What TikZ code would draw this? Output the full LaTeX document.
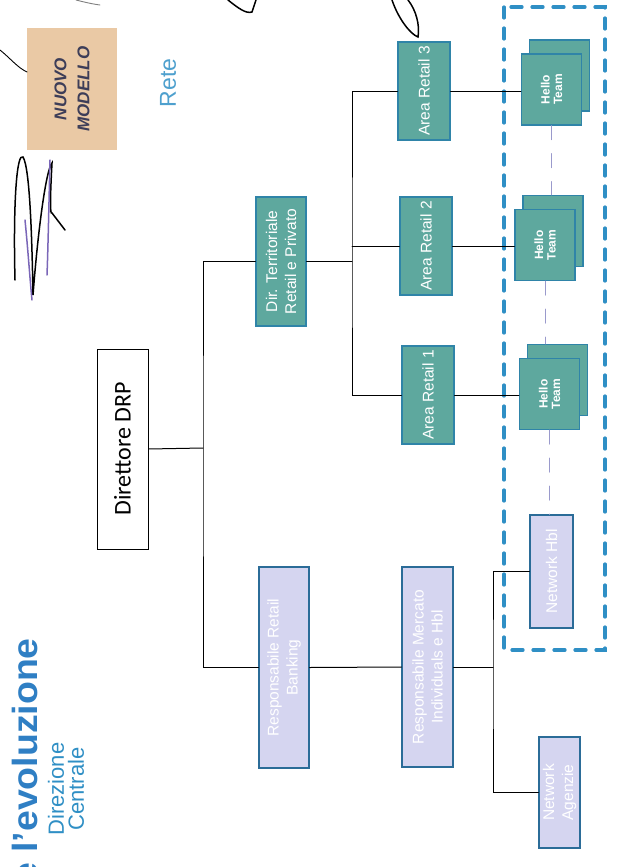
\documentclass[tikz,border=0pt]{standalone}
\usepackage{fontspec}
\setmainfont{Liberation Sans}
\newfontfamily\drpfont{Carlito}
\definecolor{areafill}{HTML}{5EA89E}
\definecolor{arealine}{HTML}{2F84A8}
\definecolor{lilafill}{HTML}{D5D5F0}
\definecolor{lilaline}{HTML}{2B6C98}
\definecolor{gapline}{HTML}{9A9ACC}
\definecolor{reteblue}{HTML}{2F8FC5}
\definecolor{titleblue}{HTML}{2F7FC4}
\definecolor{modfill}{HTML}{EAC9A5}
\definecolor{modtext}{HTML}{3D3D58}
\definecolor{signink}{HTML}{7A66B8}
\begin{document}
\begin{tikzpicture}[x=1pt,y=-1pt,line cap=round,
  every node/.style={inner sep=0pt,font=\fontsize{15.5}{19}\selectfont},
  areabox/.style={rotate=90,draw=arealine,line width=1.2pt,fill=areafill,text=white,align=center},
  lilabox/.style={rotate=90,draw=lilaline,line width=1.2pt,fill=lilafill,text=white,align=center},
  teambox/.style={areabox,minimum width=71pt,minimum height=60pt,font=\fontsize{12}{12.5}\selectfont\bfseries},
  link/.style={line width=1pt},
  gap/.style={draw=gapline,line width=1pt,dash pattern=on 14pt off 14pt},
  hellozone/.style={draw=reteblue,line width=3.2pt,dash pattern=on 11pt off 10pt},
  ink/.style={line width=1.5pt}]

  \fill[white] (0,0) rectangle (620,867);
  \useasboundingbox (0,0) rectangle (620,867);

  % titoli
  \node[rotate=90,anchor=base east,text=titleblue,font=\fontsize{35}{40}\selectfont\bfseries] (titolo) at (37,638) {\scalebox{1.07}[1]{e l’evoluzione}};
  \node[rotate=90,text=reteblue,align=center,font=\fontsize{22}{20}\selectfont] (dircen) at (66,789) {Direzione\\Centrale};
  \node[rotate=90,text=reteblue!85,font=\fontsize{23}{26}\selectfont] (rete) at (168,83) {Rete};
  \node[rotate=90,fill=modfill,minimum width=122pt,minimum height=90pt,align=center,text=modtext,font=\fontsize{17}{23}\selectfont\bfseries\itshape] (modello) at (72,89) {NUOVO\\MODELLO};

  % area hello team
  \draw[hellozone] (504,7) rectangle (605,650);

  % caselle
  \node[draw=black,line width=1pt,fill=white,rotate=90,minimum width=200pt,minimum height=51pt,font=\drpfont\fontsize{24}{28}\selectfont] (drp) at (122.5,449) {Direttore DRP};
  \node[areabox,minimum width=129pt,minimum height=50pt] (dirterr) at (281,261.5) {Dir. Territoriale\\Retail e Privato};
  \node[lilabox,minimum width=201pt,minimum height=50pt] (rrb) at (284,667.5) {Responsabile Retail\\Banking};
  \node[lilabox,minimum width=200pt,minimum height=51pt] (rmi) at (427.5,667) {Responsabile Mercato\\Individuals e Hbl};
  \node[lilabox,minimum width=113pt,minimum height=43pt] (hbl) at (551.5,571.5) {Network Hbl};
  \node[lilabox,minimum width=111pt,minimum height=41pt] (agenzie) at (559.5,792.5) {Network\\Agenzie};

  \foreach \i/\xa/\ya/\xt/\yt in {3/424/91/551.5/89.5, 2/426/246/545/245, 1/428/395/549.5/394} {
    \node[areabox,minimum width=98pt,minimum height=52pt] (ar\i) at (\xa,\ya) {Area Retail \i};
    \node[teambox] (htb\i) at (\xt+8,\yt-14) {};
    \node[teambox] (ht\i) at (\xt,\yt) {Hello\\Team};
    \draw[link] (ar\i.south) -- (ar\i.south -| ht\i.north);
  }

  % collegamenti
  \coordinate (j1) at (203,448);
  \coordinate (j2) at (352,261.5);
  \coordinate (j3) at (493,667);
  \draw[link] (drp.south) -- (j1);
  \draw[link] (dirterr.north) -| (j1) |- (rrb.north);
  \draw[link] (dirterr.south) -- (j2);
  \draw[link] (ar3.north) -| (j2) |- (ar1.north);
  \draw[link] (ar2.north) -- (ar2.north -| j2);
  \draw[link] (rrb.south) -- (rmi.north);
  \draw[link] (rmi.south) -- (j3);
  \draw[link] (hbl.north) -| (j3) |- (agenzie.north);

  \draw[gap] (ht3.west) -- (ht3.west |- htb2.east);
  \draw[gap] (ht2.west) -- (ht2.west |- htb1.east);
  \draw[gap] (ht1.west) -- (ht1.west |- hbl.east);

  % segni a penna
  \draw[ink,line width=0.9pt] (0,50) .. controls (10,58) and (18,68) .. (27,72);
  \draw[ink,gray,line width=0.9pt] (76,0) .. controls (84,2) and (92,4) .. (100,5);
  \draw[ink] (228,0) .. controls (238,8) and (246,14) .. (252,12) -- (256,0);
  \draw[ink] (392,0) .. controls (398,18) and (410,34) .. (418,37) .. controls (420,25) and (416,10) .. (408,0);
  \draw[ink] (15,280) .. controls (13,200) and (17,152) .. (23,157) .. controls (30,168) and (32,240) .. (33,295)
    .. controls (38,230) and (46,170) .. (52,163) .. controls (50,200) and (50,215) .. (52,213) -- (65,230);
  \draw[ink,signink] (50,160) .. controls (49,200) and (48,250) .. (47,275);
  \draw[ink,signink] (25,220) .. controls (28,250) and (30,280) .. (32,300);
\end{tikzpicture}
\end{document}
